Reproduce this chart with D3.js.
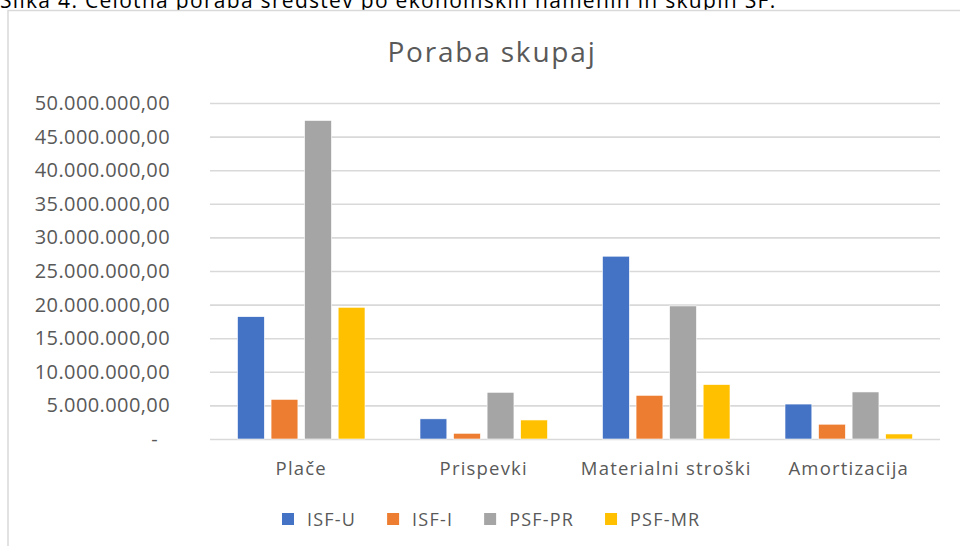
<!DOCTYPE html>
<html>
<head>
<meta charset="utf-8">
<script src="https://cdn.jsdelivr.net/npm/d3@7"></script>
<style>
  body { margin: 0; background: #fff; }
  text { font-family: "Open Sans", sans-serif; }
</style>
</head>
<body>
<svg id="svg" width="960" height="546"></svg>
<script>
// chart data
const categories = ['Plače', 'Prispevki', 'Materialni stroški', 'Amortizacija']
const seriesNames = ['ISF-U', 'ISF-I', 'PSF-PR', 'PSF-MR']
const isfU = [18200000, 3000000, 27200000, 5200000]
const isfI = [5900000, 850000, 6500000, 2200000]
const psfPR = [47400000, 6950000, 19800000, 7000000]
const psfMR = [19600000, 2830000, 8100000, 750000]
const yTicks = [0, 5e6, 10e6, 15e6, 20e6, 25e6, 30e6, 35e6, 40e6, 45e6, 50e6]
const colors = ['#4472C4', '#ED7D31', '#A5A5A5', '#FFC000']

const seriesValues = [isfU, isfI, psfPR, psfMR]
const rows = categories.map((c, i) => ({
  name: c,
  values: seriesNames.map((s, j) => ({ series: s, value: seriesValues[j][i] }))
}))

const margin = { top: 103, right: 20, bottom: 107, left: 210 }
const width = 940 - margin.left
const height = 439 - margin.top

const svg = d3.select('#svg')

// caption above the chart (cut off at the top, as in the page)
svg.append('text')
  .attr('x', 0)
  .attr('y', 8)
  .attr('font-size', 21)
  .attr('fill', '#000')
  .attr('letter-spacing', 1.3)
  .text('Slika 4: Celotna poraba sredstev po ekonomskih namenih in skupin SF.')

// chart frame
svg.append('rect')
  .attr('x', 8)
  .attr('y', 10.5)
  .attr('width', 1000)
  .attr('height', 600)
  .attr('fill', '#fff')
  .attr('stroke', '#d9d9d9')
  .attr('stroke-width', 1.5)

svg.append('text')
  .attr('x', 492)
  .attr('y', 62)
  .attr('text-anchor', 'middle')
  .attr('font-size', 28)
  .attr('letter-spacing', 1.8)
  .attr('fill', '#595959')
  .text('Poraba skupaj')

const x0 = d3.scaleBand()
  .domain(categories)
  .range([0, width])

const x1 = d3.scaleBand()
  .domain(seriesNames)
  .range([0, x0.bandwidth()])
  .paddingInner(0.2)
  .paddingOuter(0.82)

const y = d3.scaleLinear()
  .domain([0, 50e6])
  .range([height, 0])

const color = d3.scaleOrdinal().domain(seriesNames).range(colors)

const g = svg.append('g')
  .attr('transform', `translate(${margin.left}, ${margin.top})`)

const locale = d3.formatLocale({ decimal: ',', thousands: '.', grouping: [3], currency: ['', ''] })
const fmt = locale.format(',.2f')

const leftAxis = d3.axisLeft(y)
  .tickValues(yTicks)
  .tickSize(-width)
  .tickPadding(40)
  .tickFormat(d => d === 0 ? '-' : fmt(d))

const yAxis = g.append('g').call(leftAxis)
yAxis.select('.domain').remove()
yAxis.selectAll('.tick line')
  .attr('stroke', '#d9d9d9')
  .attr('stroke-width', 1.6)
yAxis.selectAll('.tick text')
  .attr('font-size', 20)
  .attr('letter-spacing', 0.4)
  .attr('fill', '#595959')
  .attr('font-family', '"Open Sans", sans-serif')
  .attr('dx', d => d === 0 ? -12 : 0)

// bars
const groups = g.selectAll('.cat')
  .data(rows)
  .enter()
  .append('g')
  .attr('class', 'cat')
  .attr('transform', d => `translate(${x0(d.name)}, 0)`)

groups.selectAll('rect')
  .data(d => d.values)
  .enter()
  .append('rect')
  .attr('x', d => x1(d.series))
  .attr('y', d => y(d.value))
  .attr('width', x1.bandwidth())
  .attr('height', d => height - y(d.value))
  .attr('fill', d => color(d.series))
  .attr('stroke', '#fff')
  .attr('stroke-width', 0.6)

const bottomAxis = d3.axisBottom(x0)
  .tickSize(0)
  .tickPadding(23)

const xAxis = g.append('g')
  .attr('transform', `translate(0, ${height})`)
  .call(bottomAxis)
xAxis.select('.domain').remove()
xAxis.selectAll('.tick text')
  .attr('font-size', 18.5)
  .attr('letter-spacing', 1.2)
  .attr('fill', '#595959')
  .attr('font-family', '"Open Sans", sans-serif')

// legend
const legend = svg.append('g').attr('transform', 'translate(282, 519)')
let lx = 0
seriesNames.forEach(s => {
  const item = legend.append('g').attr('transform', `translate(${lx}, 0)`)
  item.append('rect')
    .attr('x', 0)
    .attr('y', -6)
    .attr('width', 12)
    .attr('height', 12)
    .attr('fill', color(s))
  const t = item.append('text')
    .attr('x', 25)
    .attr('y', 6.5)
    .attr('font-size', 18)
    .attr('letter-spacing', 1.2)
    .attr('fill', '#595959')
    .text(s)
  lx += 25 + t.node().getComputedTextLength() + 31
})
</script>
</body>
</html>
